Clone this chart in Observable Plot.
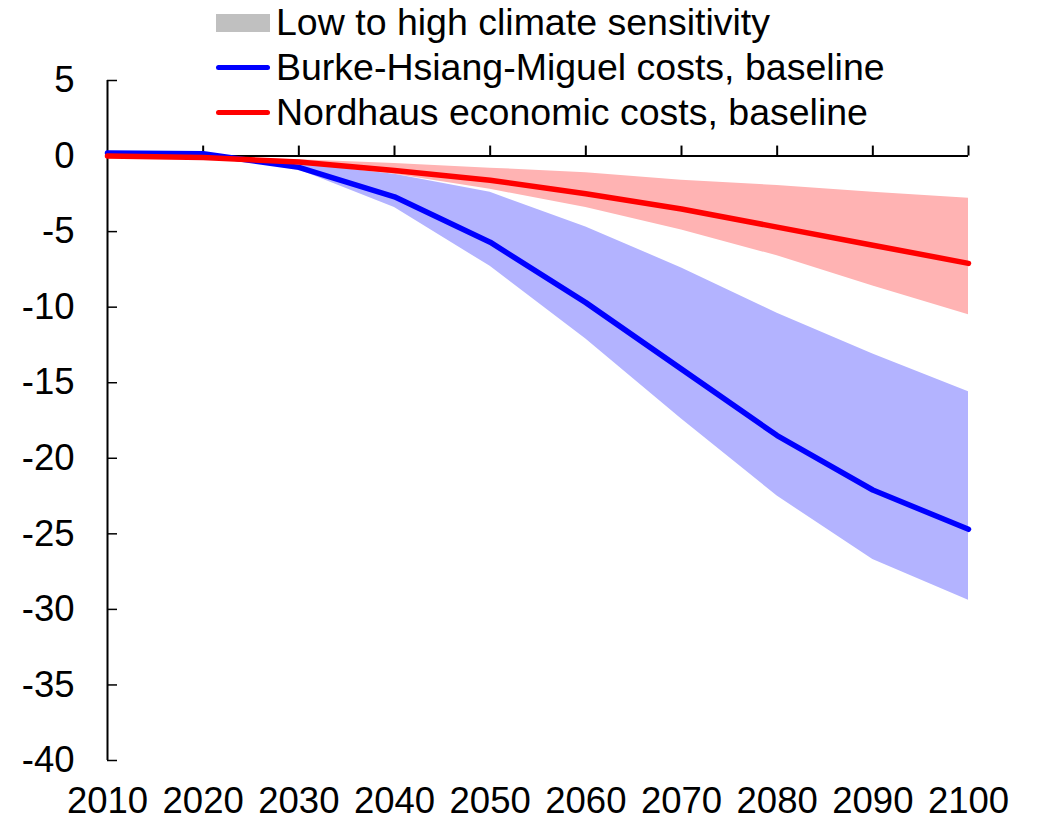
<!DOCTYPE html>
<html>
<head>
<meta charset="utf-8">
<script src="https://cdn.jsdelivr.net/npm/d3@7"></script>
<script src="https://cdn.jsdelivr.net/npm/@observablehq/plot@0.6"></script>
<style>
  html, body { margin: 0; padding: 0; background: #fff; }
  #wrap { position: relative; width: 1038px; height: 820px; font-family: "Liberation Sans", Arial, sans-serif; }
  #legend { position: absolute; left: 216px; top: 0; z-index: 2; }
  .row { display: flex; align-items: center; height: 45px; font-size: 37.5px; color: #000; white-space: nowrap; }
  .sw { width: 54px; margin-right: 6px; flex: none; }
  .box { height: 18px; background: #c0c0c0; }
  .ln { height: 5px; border-radius: 3px; }
</style>
</head>
<body>
<div id="wrap"><div id="legend"></div></div>
<script>
const years = [2010, 2020, 2030, 2040, 2050, 2060, 2070, 2080, 2090, 2100];
const bhm     = [0.2, 0.15, -0.75, -2.7, -5.7, -9.7, -14.1, -18.5, -22.1, -24.7];
const bhmLow  = [0.2, 0.15, -0.9, -3.4, -7.3, -12.1, -17.4, -22.5, -26.7, -29.4];
const bhmHigh = [0.2, 0.15, -0.5, -1.2, -2.4, -4.7, -7.4, -10.4, -13.1, -15.6];
const nord     = [0, -0.1, -0.4, -0.95, -1.6, -2.5, -3.5, -4.7, -5.9, -7.1];
const nordLow  = [0, -0.1, -0.5, -1.2, -2.2, -3.4, -4.9, -6.6, -8.6, -10.5];
const nordHigh = [0, -0.05, -0.25, -0.5, -0.8, -1.1, -1.6, -1.95, -2.4, -2.8];
const yTicks = [5, 0, -5, -10, -15, -20, -25, -30, -35, -40];
const legendItems = [
  {label: "Low to high climate sensitivity", kind: "box", color: "#c0c0c0"},
  {label: "Burke-Hsiang-Miguel costs, baseline", kind: "ln", color: "#0000ff"},
  {label: "Nordhaus economic costs, baseline", kind: "ln", color: "#ff0000"}
];

const bhmRows = years.map((x, i) => ({x, y: bhm[i], lo: bhmLow[i], hi: bhmHigh[i]}));
const nordRows = years.map((x, i) => ({x, y: nord[i], lo: nordLow[i], hi: nordHigh[i]}));

const W = 1038, H = 820, mL = 107, mR = 70, mT = 80, mB = 60;
const yDomain = [-40, 5];
const tickPx = 10;
const tickUnits = tickPx * (yDomain[1] - yDomain[0]) / (H - mT - mB);

const chart = Plot.plot({
  width: W, height: H,
  marginLeft: mL, marginRight: mR, marginTop: mT, marginBottom: mB,
  style: {fontFamily: "'Liberation Sans', Arial, sans-serif", fontSize: "36.5px", color: "#000", background: "#fff"},
  x: {domain: [2010, 2100], ticks: years, tickFormat: d => String(d), tickSize: 0, tickPadding: 27, label: null},
  y: {domain: yDomain, ticks: yTicks, tickFormat: d => String(d), tickSize: 0, tickPadding: 33, label: null},
  marks: [
    Plot.areaY(bhmRows, {x: "x", y1: "lo", y2: "hi", fill: "#b3b3ff"}),
    Plot.areaY(nordRows, {x: "x", y1: "lo", y2: "hi", fill: "#ffb3b3"}),
    Plot.ruleY([0], {stroke: "#000", strokeWidth: 2}),
    Plot.ruleX([2010], {stroke: "#000", strokeWidth: 2}),
    Plot.ruleX(years.slice(1), {x: d => d, y1: 0, y2: tickUnits, stroke: "#000", strokeWidth: 2}),
    Plot.tickY(yTicks, {y: d => d, insetRight: W - mL - mR - tickPx, stroke: "#000", strokeWidth: 1.5}),
    Plot.lineY(bhmRows, {x: "x", y: "y", stroke: "#0000ff", strokeWidth: 5.5, strokeLinecap: "round", strokeLinejoin: "round"}),
    Plot.lineY(nordRows, {x: "x", y: "y", stroke: "#ff0000", strokeWidth: 5.5, strokeLinecap: "round", strokeLinejoin: "round"})
  ]
});
document.getElementById("wrap").appendChild(chart);

const legend = document.getElementById("legend");
for (const it of legendItems) {
  const row = document.createElement("div");
  row.className = "row";
  const sw = document.createElement("div");
  sw.className = "sw " + it.kind;
  sw.style.background = it.color;
  const t = document.createElement("span");
  t.textContent = it.label;
  row.appendChild(sw);
  row.appendChild(t);
  legend.appendChild(row);
}
</script>
</body>
</html>
